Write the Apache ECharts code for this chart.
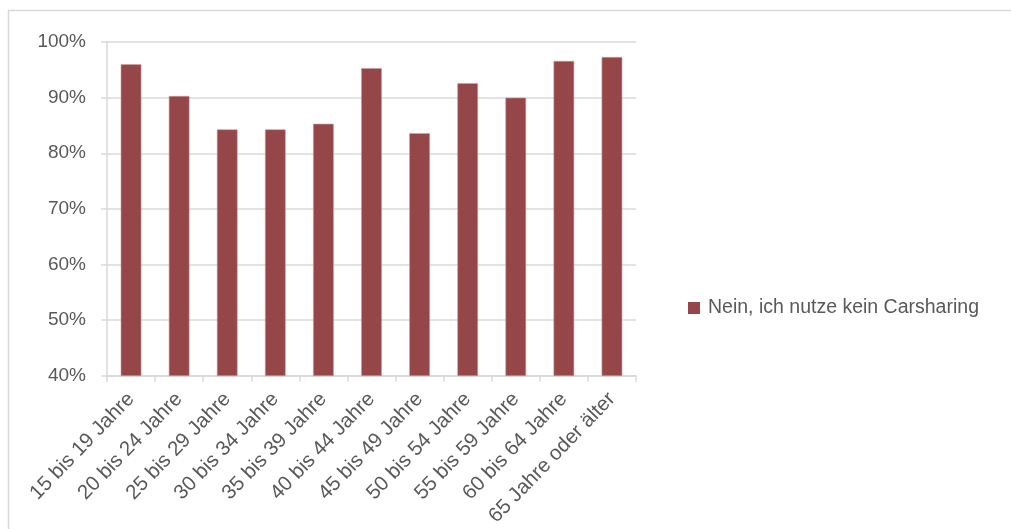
<!DOCTYPE html>
<html>
<head>
<meta charset="utf-8">
<script src="https://cdn.jsdelivr.net/npm/echarts@6/dist/echarts.min.js"></script>
<style>
  html, body { margin: 0; padding: 0; background: #ffffff; }
  #chart { width: 1011px; height: 529px; }
</style>
</head>
<body>
<div id="chart"></div>
<script>
// Age groups on the x axis
const categories = [
  '15 bis 19 Jahre', '20 bis 24 Jahre', '25 bis 29 Jahre', '30 bis 34 Jahre',
  '35 bis 39 Jahre', '40 bis 44 Jahre', '45 bis 49 Jahre', '50 bis 54 Jahre',
  '55 bis 59 Jahre', '60 bis 64 Jahre', '65 Jahre oder älter'
];
// Share of respondents not using carsharing, in percent
const seriesName = 'Nein, ich nutze kein Carsharing';
const noCarsharing = [96.0, 90.3, 84.3, 84.3, 85.3, 95.3, 83.6, 92.6, 90.0, 96.6, 97.3];
// Value axis range
const yMin = 40, yMax = 100, yStep = 10;

const chart = echarts.init(document.getElementById('chart'), null, { renderer: 'canvas' });
const fontFamily = '"Liberation Sans", Arial, sans-serif';
const textColor = '#595959';
const lineColor = '#d9d9d9';
const barColor = '#954648';

chart.setOption({
  animation: false,
  backgroundColor: '#ffffff',
  graphic: [{
    type: 'rect',
    shape: { x: 8.5, y: 10.5, width: 1200, height: 700 },
    style: { fill: 'none', stroke: lineColor, lineWidth: 1.5 },
    silent: true
  }],
  grid: { left: 107, right: 375, top: 42, bottom: 153, containLabel: false },
  legend: {
    data: [{ name: seriesName, itemStyle: { color: barColor, borderWidth: 0 } }],
    left: 683,
    top: 293,
    orient: 'vertical',
    icon: 'rect',
    itemWidth: 12,
    itemHeight: 12,
    itemGap: 8,
    textStyle: { color: textColor, fontSize: 19.5, fontFamily: fontFamily, padding: [0, 0, 0, 3] }
  },
  xAxis: {
    type: 'category',
    data: categories,
    axisLine: { show: true, lineStyle: { color: lineColor, width: 1.5 } },
    axisTick: { show: true, alignWithLabel: false, length: 6, lineStyle: { color: lineColor, width: 1.5 } },
    axisLabel: {
      interval: 0,
      rotate: 46,
      margin: 20,
      color: textColor,
      fontSize: 20.5,
      fontFamily: fontFamily
    },
    splitLine: { show: false }
  },
  yAxis: {
    type: 'value',
    min: yMin,
    max: yMax,
    interval: yStep,
    axisLine: { show: true, lineStyle: { color: lineColor, width: 1.5 } },
    axisTick: { show: true, length: 6, lineStyle: { color: lineColor, width: 1.5 } },
    axisLabel: {
      margin: 21,
      color: textColor,
      fontSize: 19,
      fontFamily: fontFamily,
      formatter: v => v + '%'
    },
    splitLine: { show: true, lineStyle: { color: lineColor, width: 1.5 } }
  },
  series: [{
    name: seriesName,
    type: 'bar',
    data: noCarsharing,
    barWidth: '43%',
    itemStyle: { color: barColor, borderColor: '#c9a0a1', borderWidth: 0.6 }
  }]
});
</script>
</body>
</html>
